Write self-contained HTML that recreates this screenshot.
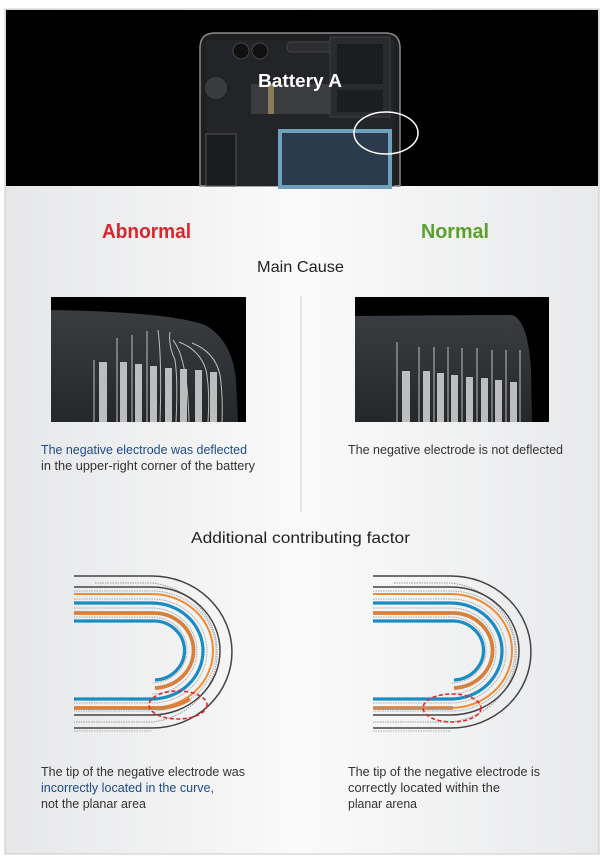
<!DOCTYPE html>
<html><head><meta charset="utf-8"><style>
html,body{margin:0;padding:0;width:609px;height:858px;overflow:hidden;background:#fff}
svg{display:block}
text{font-family:"Liberation Sans",sans-serif}
</style></head><body>
<svg width="609" height="858" viewBox="0 0 609 858" xmlns="http://www.w3.org/2000/svg">
<defs>
<linearGradient id="bg" x1="0" y1="0" x2="1" y2="0">
<stop offset="0" stop-color="#e6e7e9"/><stop offset="0.5" stop-color="#fafafa"/><stop offset="1" stop-color="#e8e9eb"/>
</linearGradient>
<linearGradient id="bat" x1="0" y1="0" x2="0" y2="1">
<stop offset="0" stop-color="#3a3d40"/><stop offset="1" stop-color="#25282a"/>
</linearGradient>
</defs>
<rect x="0" y="0" width="609" height="858" fill="#fff"/>
<rect x="5" y="9" width="594" height="845" fill="url(#bg)" stroke="#c8c8c8" stroke-width="1"/>
<!-- header -->
<rect x="6" y="10" width="592" height="176" fill="#000"/>
<path d="M200 186 V48 Q200 33 215 33 H385 Q400 33 400 48 V186 Z" fill="#1e1f21" stroke="#8a8a8a" stroke-width="1.5"/>
<rect x="206" y="40" width="188" height="146" fill="#232427"/>
<circle cx="241" cy="51" r="8" fill="#111" stroke="#444"/><circle cx="260" cy="51" r="8" fill="#111" stroke="#444"/>
<rect x="287" y="42" width="56" height="10" rx="4" fill="#2c2d30" stroke="#444"/>
<rect x="330" y="37" width="60" height="80" fill="#2a2b2e" stroke="#3f4044"/>
<rect x="337" y="44" width="46" height="40" fill="#1c1d1f"/>
<rect x="337" y="90" width="46" height="22" fill="#1c1d1f"/>
<circle cx="216" cy="88" r="11" fill="#3a3b3e"/>
<rect x="251" y="84" width="80" height="30" fill="#3b3c40"/>
<rect x="268" y="84" width="6" height="30" fill="#8a7a55"/>
<rect x="206" y="134" width="30" height="52" fill="#1a1b1d" stroke="#555"/>
<rect x="280" y="131" width="110" height="56" fill="#2b3a4c" stroke="#6ea2bc" stroke-width="4"/>
<ellipse cx="386" cy="133" rx="32" ry="21" fill="none" stroke="#fff" stroke-width="1.5"/>
<text x="258" y="87" font-size="18" font-weight="bold" fill="#fff" textLength="84" lengthAdjust="spacingAndGlyphs">Battery A</text>
<!-- titles -->
<text x="102" y="238" font-size="20" font-weight="bold" fill="#d7262d" textLength="89" lengthAdjust="spacingAndGlyphs">Abnormal</text>
<text x="421" y="238" font-size="20" font-weight="bold" fill="#5aa02c" textLength="68" lengthAdjust="spacingAndGlyphs">Normal</text>
<text x="257" y="272" font-size="16" fill="#222" textLength="87" lengthAdjust="spacingAndGlyphs">Main Cause</text>
<line x1="301" y1="296" x2="301" y2="512" stroke="#cfcfcf" stroke-width="1"/>
<!-- left image -->
<rect x="51" y="297" width="195" height="125" fill="#000"/>
<path d="M51 422 V310 Q170 312 205 325 Q232 340 236 380 L238 422 Z" fill="url(#bat)"/>
<g stroke="#bdbdbd" stroke-width="1" fill="none">
<line x1="94" y1="360" x2="94" y2="422"/><line x1="117" y1="338" x2="117" y2="422"/>
<line x1="132" y1="335" x2="132" y2="422"/><line x1="147" y1="331" x2="147" y2="422"/>
<path d="M158 330 Q162 360 160 422"/><path d="M170 332 Q168 345 175 360 Q178 380 176 422"/>
<path d="M173 340 Q180 350 182 360 Q188 380 189 422"/>
<path d="M179 342 Q200 350 206 370 Q210 390 208 422"/>
<path d="M192 343 Q215 352 220 375 Q223 395 222 422"/>
</g>
<g fill="#bdbdbd">
<rect x="99" y="362" width="8" height="60"/><rect x="120" y="362" width="7" height="60"/>
<rect x="135" y="364" width="7" height="58"/><rect x="150" y="366" width="7" height="56"/>
<rect x="165" y="368" width="7" height="54"/><rect x="180" y="369" width="7" height="53"/>
<rect x="195" y="370" width="7" height="52"/><rect x="210" y="372" width="7" height="50"/>
</g>
<!-- right image -->
<rect x="355" y="297" width="194" height="125" fill="#000"/>
<path d="M355 422 V316 Q460 315 512 315 Q528 320 531 370 L532 422 Z" fill="url(#bat)"/>
<g stroke="#bdbdbd" stroke-width="1">
<line x1="397" y1="342" x2="397" y2="422"/><line x1="419" y1="347" x2="419" y2="422"/>
<line x1="434" y1="347" x2="434" y2="422"/><line x1="448" y1="347" x2="448" y2="422"/>
<line x1="462" y1="348" x2="462" y2="422"/><line x1="477" y1="348" x2="477" y2="422"/>
<line x1="492" y1="350" x2="492" y2="422"/><line x1="506" y1="350" x2="506" y2="422"/>
<line x1="520" y1="350" x2="520" y2="422"/>
</g>
<g fill="#bdbdbd">
<rect x="402" y="371" width="8" height="51"/><rect x="423" y="371" width="7" height="51"/>
<rect x="437" y="373" width="7" height="49"/><rect x="451" y="375" width="7" height="47"/>
<rect x="466" y="377" width="7" height="45"/><rect x="481" y="378" width="7" height="44"/>
<rect x="495" y="380" width="7" height="42"/><rect x="510" y="382" width="7" height="40"/>
</g>
<!-- captions -->
<text x="41" y="454" font-size="12.5" fill="#1d4a8c" textLength="206" lengthAdjust="spacingAndGlyphs">The negative electrode was deflected</text>
<text x="41" y="470" font-size="12.5" fill="#333" textLength="214" lengthAdjust="spacingAndGlyphs">in the upper-right corner of the battery</text>
<text x="348" y="454" font-size="12.5" fill="#333" textLength="215" lengthAdjust="spacingAndGlyphs">The negative electrode is not deflected</text>
<text x="191" y="543" font-size="16" fill="#222" textLength="219" lengthAdjust="spacingAndGlyphs">Additional contributing factor</text>
<!-- curve diagrams -->
<g id="cl">
<g fill="none" stroke-linecap="butt">
<path d="M74 576 H152 A80 76 0 0 1 152 728 H74" stroke="#444" stroke-width="1.5"/>
<path d="M95 583 H152 A74 70 0 0 1 152 722 H74" stroke="#999" stroke-width="1" stroke-dasharray="1.5 1"/>
<path d="M74 587 H152 A68 64 0 0 1 152 715 H74" stroke="#444" stroke-width="1.5"/>
<path d="M74 591 H152 A64 60 0 0 1 152 711 H74" stroke="#aaa" stroke-width="1" stroke-dasharray="1.5 1"/>
<path d="M74 594 H152 A61 57 0 0 1 152 708" stroke="#f28a30" stroke-width="2"/>
<path d="M74 599 H152 A55 52 0 0 1 152 703 H74" stroke="#aaa" stroke-width="1" stroke-dasharray="1.5 1"/>
<path d="M74 603 H152 A51 48 0 0 1 152 699 H74" stroke="#1a8cc4" stroke-width="3.2"/>
<path d="M74 608 H152 A45 43 0 0 1 152 694" stroke="#aaa" stroke-width="1" stroke-dasharray="1.5 1"/>
<path d="M74 613 H152 A40 37.5 0 0 1 155 688" stroke="#d6803e" stroke-width="3.8"/>
<path d="M74 617 H152 A35 33 0 0 1 152 683" stroke="#aaa" stroke-width="1" stroke-dasharray="1.5 1"/>
<path d="M74 621 H152 A31 29.5 0 0 1 155 680" stroke="#1a8cc4" stroke-width="3.2"/>
<path d="M74 731 H152" stroke="#aaa" stroke-width="1" stroke-dasharray="1.5 1"/>
</g>
</g>
<path d="M74 708 H160 A61 57 0 0 0 190 699" fill="none" stroke="#d6803e" stroke-width="3.8"/>
<ellipse cx="178" cy="705" rx="29" ry="14" fill="none" stroke="#e0262d" stroke-width="1.6" stroke-dasharray="4 2.5"/>
<use href="#cl" transform="translate(299,0)"/>
<path d="M373 708 H453" stroke="#c98a5a" stroke-width="3.8"/>
<ellipse cx="452" cy="708" rx="29" ry="14" fill="none" stroke="#e0262d" stroke-width="1.6" stroke-dasharray="4 2.5"/>
<!-- bottom captions -->
<text x="41" y="776" font-size="12.5" fill="#333" textLength="204" lengthAdjust="spacingAndGlyphs">The tip of the negative electrode was</text>
<text x="41" y="792" font-size="12.5" fill="#1d4a8c" textLength="173" lengthAdjust="spacingAndGlyphs">incorrectly located in the curve,</text>
<text x="41" y="808" font-size="12.5" fill="#333" textLength="105" lengthAdjust="spacingAndGlyphs">not the planar area</text>
<text x="348" y="776" font-size="12.5" fill="#333" textLength="192" lengthAdjust="spacingAndGlyphs">The tip of the negative electrode is</text>
<text x="348" y="792" font-size="12.5" fill="#333" textLength="152" lengthAdjust="spacingAndGlyphs">correctly located within the</text>
<text x="348" y="808" font-size="12.5" fill="#333" textLength="69" lengthAdjust="spacingAndGlyphs">planar arena</text>
</svg>
</body></html>
